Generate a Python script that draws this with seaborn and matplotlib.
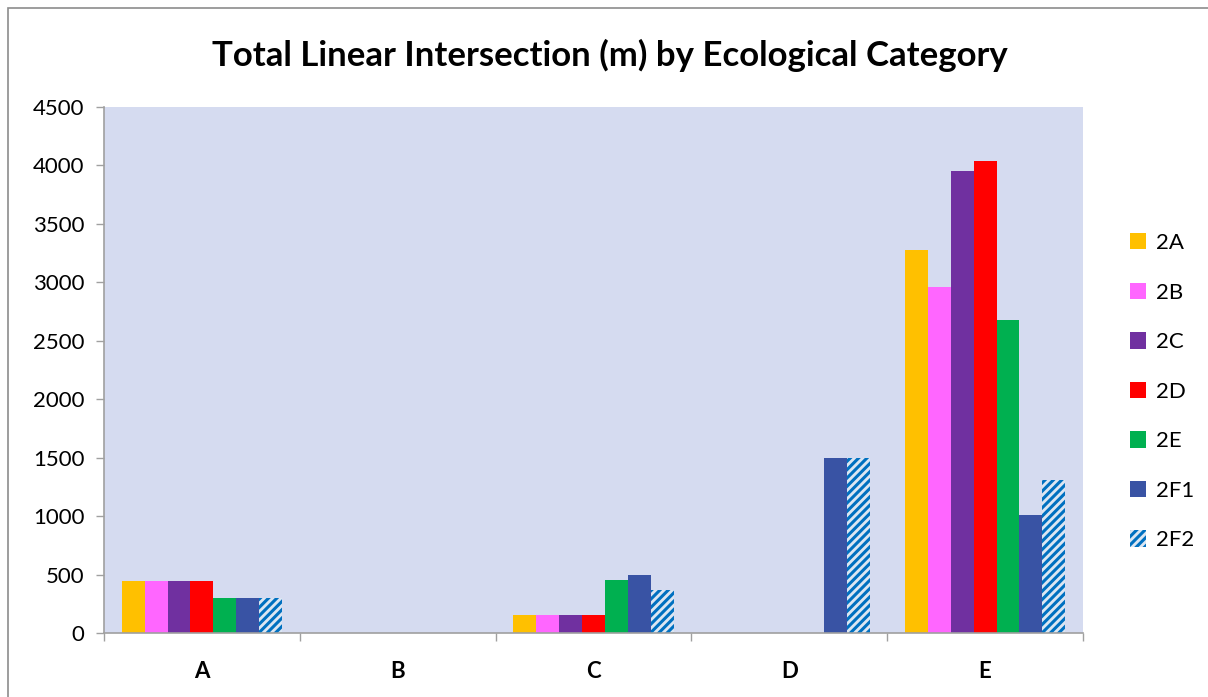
import pandas as pd
import numpy as np
import matplotlib
matplotlib.use("Agg")
import matplotlib.pyplot as plt
import seaborn as sns
from matplotlib.patches import Patch, Rectangle

categories = ["A", "B", "C", "D", "E"]
series = ["2A", "2B", "2C", "2D", "2E", "2F1", "2F2"]
values = {
    "2A":  [445, 0, 150, 0, 3280],
    "2B":  [445, 0, 150, 0, 2960],
    "2C":  [445, 0, 150, 0, 3950],
    "2D":  [445, 0, 150, 0, 4040],
    "2E":  [300, 0, 450, 0, 2680],
    "2F1": [300, 0, 500, 1500, 1010],
    "2F2": [300, 0, 370, 1500, 1310],
}
colors = ["#ffc000", "#ff66ff", "#7030a0", "#ff0000", "#00b050", "#3953a4", "#dce6f2"]
hatch_color = "#0070c0"

rows = []
for s in series:
    for c, v in zip(categories, values[s]):
        rows.append({"category": c, "series": s, "value": v})
df = pd.DataFrame(rows)

sns.set_theme(style="white")
plt.rcParams["font.family"] = ["Lato", "DejaVu Sans"]
plt.rcParams["hatch.linewidth"] = 2.2
plt.rcParams["text.color"] = "black"
plt.rcParams["xtick.color"] = "black"
plt.rcParams["ytick.color"] = "black"

fig = plt.figure(figsize=(12.08, 6.97), dpi=100)
ax = fig.add_axes([0.0861, 0.0918, 0.8104, 0.7547])
ax.set_facecolor("#d5dbf0")

sns.barplot(data=df, x="category", y="value", hue="series", hue_order=series,
            order=categories, palette=colors, width=0.82, gap=0, ax=ax,
            linewidth=0, saturation=1, legend=False, errorbar=None)

# hatched last series
for bar in ax.containers[-1]:
    bar.set_hatch("////")
    bar.set_edgecolor(hatch_color)
    bar.set_linewidth(0)

ax.set_ylim(0, 4500)
ax.set_xlim(-0.5, 4.5)
ax.set_yticks(np.arange(0, 4501, 500))
ax.tick_params(axis="y", labelsize=16, labelcolor="black", length=6, width=1,
               color="#a0a0a0", pad=8, left=True, direction="out")
ax.set_xticks(range(len(categories)))
ax.set_xticklabels(categories, fontsize=16, fontweight="bold", color="black")
ax.tick_params(axis="x", which="major", length=0, pad=20)
ax.set_xticks(np.arange(-0.5, 5, 1), minor=True)
ax.tick_params(axis="x", which="minor", length=6, width=1, color="#a0a0a0", bottom=True, direction="out")
ax.set_xlabel("")
ax.set_ylabel("")
for side in ["top", "right"]:
    ax.spines[side].set_visible(False)
for side in ["left", "bottom"]:
    ax.spines[side].set_color("#a0a0a0")
    ax.spines[side].set_linewidth(1.2)

fig.suptitle("Total Linear Intersection (m) by Ecological Category", fontsize=25,
             fontweight="bold", x=0.505, y=0.921, va="center", color="black")

handles = []
for s, col in zip(series, colors):
    if s == "2F2":
        handles.append(Patch(facecolor=col, edgecolor=hatch_color, hatch="////", linewidth=0, label=s))
    else:
        handles.append(Patch(facecolor=col, linewidth=0, label=s))
fig.legend(handles=handles, loc="center left", bbox_to_anchor=(0.926, 0.438),
           frameon=False, fontsize=16, labelspacing=1.33, handlelength=0.75,
           handleheight=0.75, handletextpad=0.45, borderpad=0)

# chart area border
fig.patches.append(Rectangle((8 / 1208, -0.05), 1.2, 1 - 8 / 697 + 0.05, transform=fig.transFigure,
                             fill=False, edgecolor="#8c8c8c", linewidth=1.2))

fig.savefig("out.png", dpi=100)
